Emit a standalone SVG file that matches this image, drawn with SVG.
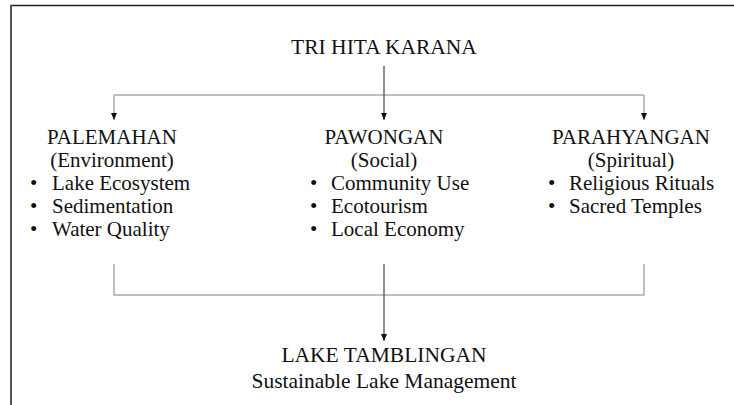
<svg xmlns="http://www.w3.org/2000/svg" width="734" height="405" viewBox="0 0 734 405">
<defs>
<marker id="ah" markerWidth="8" markerHeight="8" refX="7" refY="3.5" orient="auto" markerUnits="userSpaceOnUse" viewBox="0 0 8 7">
<path d="M0,0.5 L7,3.5 L0,6.5 Z" fill="#111"/>
</marker>
<style>
text{font-family:"Liberation Serif","Times New Roman",serif;fill:#111;}
.t{font-size:21.5px;text-anchor:middle;}
.h{font-size:21px;text-anchor:middle;}
.b{font-size:21px;}
.gl{stroke:#aaa;stroke-width:1.5;fill:none;}
.dl{stroke:#444;stroke-width:1.2;fill:none;}
</style>
</defs>
<rect width="734" height="405" fill="#fff"/>
<g id="frame">
<line x1="10" y1="5.5" x2="734" y2="5.5" stroke="#222" stroke-width="1.5"/>
<line x1="11" y1="5" x2="11" y2="405" stroke="#555" stroke-width="2"/>
</g>
<g id="connectors">
<path class="gl" d="M114,95 H644"/>
<line class="gl" x1="114" y1="95" x2="114" y2="120" marker-end="url(#ah)"/>
<line class="gl" x1="644" y1="95" x2="644" y2="120" marker-end="url(#ah)"/>
<line class="dl" x1="384" y1="66" x2="384" y2="120" marker-end="url(#ah)"/>
<path class="gl" d="M114,264 V295 H644 V264"/>
<line class="dl" x1="384" y1="264" x2="384" y2="341" marker-end="url(#ah)"/>
</g>
<g id="tri-hita-karana"><text class="t" x="384" y="54">TRI HITA KARANA</text></g>
<g id="palemahan">
<text class="h" x="112" y="144">PALEMAHAN</text>
<text class="h" x="112" y="167">(Environment)</text>
<text class="b" x="30" y="190">•</text><text class="b" x="52" y="190">Lake Ecosystem</text>
<text class="b" x="30" y="213">•</text><text class="b" x="52" y="213">Sedimentation</text>
<text class="b" x="30" y="236">•</text><text class="b" x="52" y="236">Water Quality</text>
</g>
<g id="pawongan">
<text class="h" x="384" y="144">PAWONGAN</text>
<text class="h" x="384" y="167">(Social)</text>
<text class="b" x="310" y="190">•</text><text class="b" x="331" y="190">Community Use</text>
<text class="b" x="310" y="213">•</text><text class="b" x="331" y="213">Ecotourism</text>
<text class="b" x="310" y="236">•</text><text class="b" x="331" y="236">Local Economy</text>
</g>
<g id="parahyangan">
<text class="h" x="631" y="144">PARAHYANGAN</text>
<text class="h" x="631" y="167">(Spiritual)</text>
<text class="b" x="548" y="190">•</text><text class="b" x="569" y="190">Religious Rituals</text>
<text class="b" x="548" y="213">•</text><text class="b" x="569" y="213">Sacred Temples</text>
</g>
<g id="lake-tamblingan">
<text class="t" x="384" y="362">LAKE TAMBLINGAN</text>
<text class="t" x="384" y="388">Sustainable Lake Management</text>
</g>
</svg>
